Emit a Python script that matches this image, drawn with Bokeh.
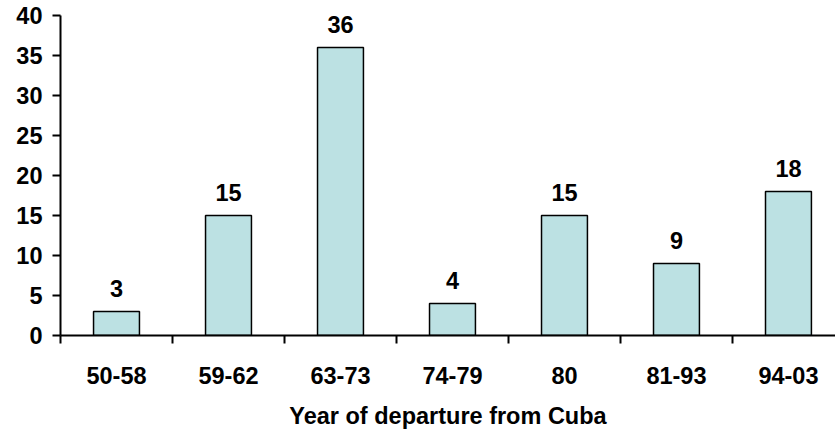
from bokeh.plotting import figure
from bokeh.models import ColumnDataSource, LinearAxis, FixedTicker, Range1d
from bokeh.core.properties import value
from bokeh.embed import file_html
from bokeh.resources import INLINE

categories = ["50-58", "59-62", "63-73", "74-79", "80", "81-93", "94-03"]
counts = [3, 15, 36, 4, 15, 9, 18]
y_ticks = [0, 5, 10, 15, 20, 25, 30, 35, 40]
x_title = "Year of departure from Cuba"

FONT = "Liberation Sans"
FS = "23.5px"

centers = [i + 0.5 for i in range(len(categories))]
src = ColumnDataSource(dict(x=centers, top=counts, label=[str(c) for c in counts]))

p = figure(width=835, height=435, output_backend="svg", toolbar_location=None,
           x_range=Range1d(0, 6.92), y_range=Range1d(0, 40),
           x_axis_location=None, y_axis_location=None,
           min_border_left=60, min_border_right=0, min_border_top=15, min_border_bottom=100)
p.outline_line_color = None
p.xgrid.visible = False
p.ygrid.visible = False
p.background_fill_color = "white"
p.border_fill_color = "white"

p.vbar(x="x", top="top", width=0.41, bottom=0, source=src,
       fill_color="#BCE1E3", line_color="black", line_width=1.5)

p.text(x="x", y="top", text="label", source=src, text_align="center",
       text_baseline="bottom", y_offset=-15, text_font=value(FONT),
       text_font_style="bold", text_font_size=FS, text_color="black")

# Y axis
ya = LinearAxis(ticker=FixedTicker(ticks=y_ticks))
ya.axis_line_width = 2
ya.axis_line_color = "black"
ya.major_tick_line_width = 2
ya.major_tick_line_color = "black"
ya.major_tick_out = 8
ya.major_tick_in = 0
ya.minor_tick_line_color = None
ya.major_label_standoff = 10
ya.major_label_text_font = FONT
ya.major_label_text_font_style = "bold"
ya.major_label_text_font_size = FS
ya.major_label_text_color = "black"
p.add_layout(ya, "left")

# X axis with boundary ticks (no labels)
xa = LinearAxis(ticker=FixedTicker(ticks=list(range(len(categories) + 1))))
xa.axis_line_width = 2
xa.axis_line_color = "black"
xa.major_tick_line_width = 2
xa.major_tick_line_color = "black"
xa.major_tick_out = 8
xa.major_tick_in = 0
xa.minor_tick_line_color = None
xa.major_label_text_alpha = 0
xa.major_label_text_font_size = "1px"
xa.major_label_standoff = 0
p.add_layout(xa, "below")

# X axis with category labels
xl = LinearAxis(ticker=FixedTicker(ticks=centers),
                major_label_overrides={c: lab for c, lab in zip(centers, categories)})
xl.axis_line_color = None
xl.major_tick_line_color = None
xl.minor_tick_line_color = None
xl.major_label_standoff = 17
xl.major_label_text_font = FONT
xl.major_label_text_font_style = "bold"
xl.major_label_text_font_size = FS
xl.major_label_text_color = "black"
xl.axis_label = x_title
xl.axis_label_text_font = FONT
xl.axis_label_text_font_style = "bold"
xl.axis_label_text_font_size = FS
xl.axis_label_text_color = "black"
xl.axis_label_standoff = 16
p.add_layout(xl, "below")

open("out.html", "w").write(file_html(p, INLINE))
